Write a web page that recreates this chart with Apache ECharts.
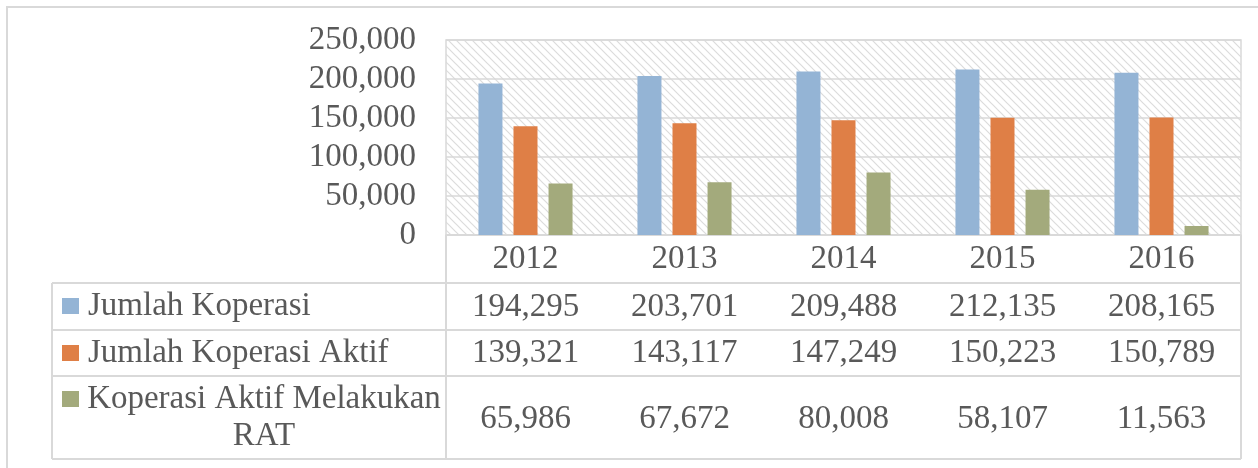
<!DOCTYPE html>
<html><head><meta charset="utf-8">
<script src="https://cdn.jsdelivr.net/npm/echarts@6/dist/echarts.min.js"></script>
<style>html,body{margin:0;padding:0;background:#fff}#c{width:1258px;height:468px}</style>
</head><body><div id="c"></div>
<script>
const years = ['2012', '2013', '2014', '2015', '2016'];
const seriesNames = ['Jumlah Koperasi', 'Jumlah Koperasi Aktif', 'Koperasi Aktif Melakukan RAT'];
const jumlahKoperasi = [194295, 203701, 209488, 212135, 208165];
const jumlahKoperasiAktif = [139321, 143117, 147249, 150223, 150789];
const koperasiAktifRAT = [65986, 67672, 80008, 58107, 11563];
const yTicks = [0, 50000, 100000, 150000, 200000, 250000];
const headerLabels = ['Jumlah Koperasi', 'Jumlah Koperasi Aktif', 'Koperasi Aktif Melakukan\nRAT'];

const colors = ['#94B4D5', '#DF7F46', '#A3AA7C'];
const FONT = 'Liberation Serif';
const TXT = '#595959';
const LINE = '#d9d9d9';
const FS = 33;

// layout (pixels)
const W = 1258, H = 468;
const gL = 446, gT = 40, gR = 1241, gB = 235;
const rowBottoms = [283, 330, 376, 459];
const tableLeft = 52;

const fmt = v => v.toLocaleString('en-US');
const seriesData = [jumlahKoperasi, jumlahKoperasiAktif, koperasiAktifRAT];

function hatch() {
  const c = document.createElement('canvas'); c.width = 8; c.height = 8;
  const g = c.getContext('2d');
  g.fillStyle = '#ffffff'; g.fillRect(0, 0, 8, 8);
  g.strokeStyle = '#dcdcdc'; g.lineWidth = 1.2;
  g.beginPath();
  g.moveTo(-1, -1); g.lineTo(9, 9);
  g.moveTo(-1, 7); g.lineTo(1, 9);
  g.moveTo(7, -1); g.lineTo(9, 1);
  g.stroke();
  return c;
}

const chart = echarts.init(document.getElementById('c'), null, {renderer: 'canvas'});

const xAxes = [{
  type: 'category', data: years, gridIndex: 0, position: 'bottom',
  axisLine: {show: true, lineStyle: {color: LINE, width: 1.5}},
  axisTick: {show: false},
  axisLabel: {interval: 0, margin: 0, fontFamily: FONT, fontSize: FS, color: TXT,
    lineHeight: rowBottoms[0] - gB}
}];
let prev = rowBottoms[0];
seriesData.forEach((arr, k) => {
  const next = rowBottoms[k + 1];
  xAxes.push({
    type: 'category', data: years, gridIndex: 0, position: 'bottom',
    offset: prev - gB,
    axisLine: {show: false}, axisTick: {show: false}, splitLine: {show: false},
    axisLabel: {interval: 0, margin: 0, fontFamily: FONT, fontSize: FS, color: TXT,
      lineHeight: next - prev + (k === 2 ? 4 : 1), formatter: (v, i) => fmt(arr[i])}
  });
  prev = next;
});

const graphics = [];
// outer frame
graphics.push({type: 'rect', shape: {x: 7, y: 7, width: 1400, height: 700},
  style: {fill: 'none', stroke: LINE, lineWidth: 2}, silent: true});
// table lines
const ln = (x1, y1, x2, y2) => graphics.push({type: 'line', shape: {x1, y1, x2, y2},
  style: {stroke: LINE, lineWidth: 2}, silent: true});
ln(gL, gB, gL, rowBottoms[3]);
ln(gR, gB, gR, rowBottoms[3]);
ln(tableLeft, rowBottoms[0], tableLeft, rowBottoms[3]);
rowBottoms.forEach(y => ln(tableLeft, y, gR, y));
// row headers
const headerY = [306, 353, 399];
headerLabels.forEach((t, k) => {
  graphics.push({type: 'rect', shape: {x: 62, y: headerY[k] - 8, width: 17, height: 16},
    style: {fill: colors[k]}, silent: true});
  if (k < 2) {
    graphics.push({type: 'text', x: 88, y: headerY[k],
      style: {text: t, fontFamily: FONT, fontSize: FS, fill: TXT, align: 'left', verticalAlign: 'middle'}, silent: true});
  } else {
    graphics.push({type: 'text', x: 264, y: headerY[k] + 18.5,
      style: {text: t, fontFamily: FONT, fontSize: FS, fill: TXT, align: 'center', verticalAlign: 'middle', lineHeight: 37}, silent: true});
  }
});

chart.setOption({
  animation: false,
  backgroundColor: '#ffffff',
  grid: {left: gL, top: gT, width: gR - gL, height: gB - gT, show: true,
    borderColor: LINE, borderWidth: 1.5,
    backgroundColor: {image: hatch(), repeat: 'repeat'}},
  xAxis: xAxes,
  yAxis: {
    type: 'value', min: yTicks[0], max: yTicks[yTicks.length - 1], interval: yTicks[1] - yTicks[0],
    axisLine: {show: false}, axisTick: {show: false},
    axisLabel: {margin: 30, fontFamily: FONT, fontSize: FS, color: TXT, formatter: v => fmt(v)},
    splitLine: {lineStyle: {color: LINE, width: 1.5}}
  },
  series: seriesData.map((arr, k) => ({
    name: seriesNames[k], type: 'bar', xAxisIndex: 0, data: arr,
    barWidth: 24, barGap: '46%',
    itemStyle: {color: colors[k]}, emphasis: {disabled: true}
  })),
  graphic: graphics
});
</script>
</body></html>
